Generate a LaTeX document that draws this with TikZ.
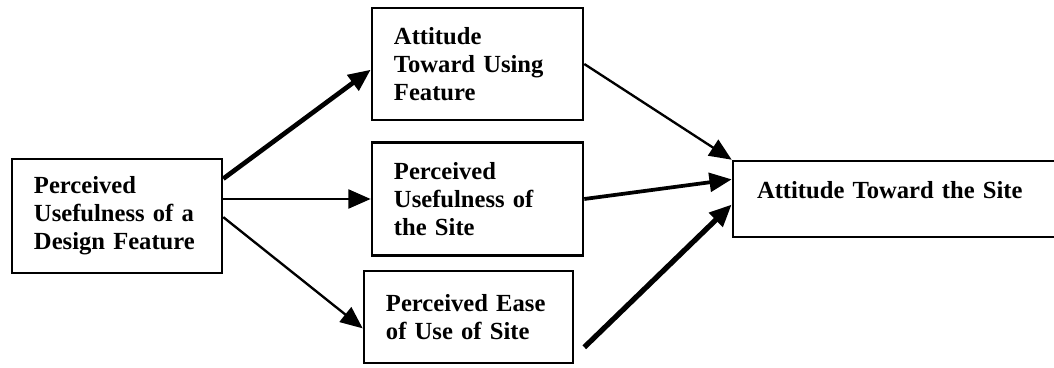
\documentclass[tikz,border=0pt]{standalone}
\usepackage{fontspec}
\setmainfont{Liberation Serif}
\usetikzlibrary{arrows.meta,calc}

\begin{document}
\begin{tikzpicture}[x=0.03cm, y=-0.03cm,
    box/.style={draw, line width=2.2pt, align=left, inner xsep=0.66cm,
      font=\bfseries\fontsize{21}{24}\selectfont},
    conn/.style={-{Triangle[length=19pt,width=16pt]}}]
    \useasboundingbox (0, 0) rectangle (1054, 368);
    \clip (0, 0) rectangle (1054, 368);

    \node[box, minimum width=6.3cm, minimum height=3.42cm, text width=4.98cm] (pdf) at (117, 216)
      {Perceived\\ Usefulness of a\\ Design Feature};

    \node[box, minimum width=6.33cm, minimum height=3.36cm, text width=5.01cm] (atf) at (477.5, 64)
      {Attitude\\ Toward Using\\ Feature};
    \node[box, minimum width=6.33cm, minimum height=3.39cm, text width=5.01cm] (pus) at (477.5, 199)
      {Perceived\\ Usefulness of\\ the Site};
    \node[box, minimum width=6.27cm, minimum height=2.76cm, text width=4.95cm] (peu) at (468.5, 317)
      {Perceived Ease\\ of Use of Site};

    \node[box, minimum width=10.41cm, minimum height=2.28cm, inner xsep=0.72cm, text width=8.97cm, text depth=15pt] (ats) at (906.5, 199)
      {Attitude Toward the Site};

    \draw[conn, line width=4pt] ($(pdf.north east)!0.18!(pdf.south east)$) -- ($(atf.north west)!0.55!(atf.south west)$);
    \draw[conn, line width=2.4pt] (pdf.east |- pus.west) -- (pus.west);
    \draw[conn, line width=2pt] ($(pdf.north east)!0.51!(pdf.south east)$) -- ($(peu.north west)!0.62!(peu.south west)$);

    \draw[conn, line width=2pt] (atf.east) -- (ats.north west);
    \draw[conn, line width=3.2pt] (pus.east) -- ($(ats.north west)!0.25!(ats.south west)$);
    \draw[conn, line width=4.5pt] ($(peu.north east)!0.82!(peu.south east)+(10, 0)$) -- ($(ats.north west)!0.57!(ats.south west)$);
  \end{tikzpicture}
\end{document}
